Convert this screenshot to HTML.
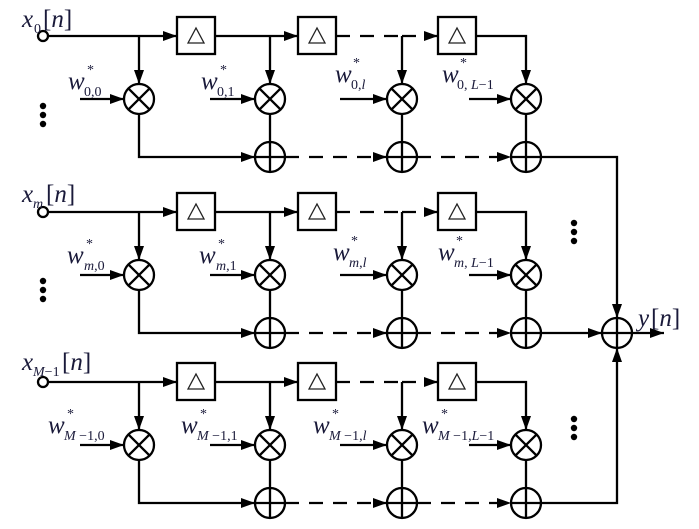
<!DOCTYPE html>
<html><head><meta charset="utf-8"><style>
html,body{margin:0;padding:0;background:#fff}
svg{display:block}
svg text{font-family:"Liberation Serif","DejaVu Serif",serif !important;fill:#1a1a3a}
.w{font-style:italic;font-size:25px}
.s{font-size:14px}
.i{font-style:italic}
</style></head><body>
<svg width="699" height="529" viewBox="0 0 699 529" xmlns="http://www.w3.org/2000/svg" font-family="Liberation Serif, DejaVu Serif, serif">
<defs>
<marker id="a" markerUnits="userSpaceOnUse" markerWidth="16" markerHeight="12" refX="14" refY="5" orient="auto">
<path d="M0,0 L14,5 L0,10 Z" fill="#000"/>
</marker>
<g id="row" stroke="#000" stroke-width="2.3" fill="none">
<line x1="48" y1="0" x2="177" y2="0" marker-end="url(#a)"/>
<line x1="139" y1="0" x2="139" y2="48" marker-end="url(#a)"/>
<rect x="177" y="-19" width="38" height="37" fill="#fff"/>
<path d="M188,7 L196,-8 L204,7 Z" stroke-width="1.3" stroke="#222"/>
<line x1="215" y1="0" x2="298" y2="0" marker-end="url(#a)"/>
<line x1="270" y1="0" x2="270" y2="48" marker-end="url(#a)"/>
<rect x="298" y="-19" width="38" height="37" fill="#fff"/>
<path d="M309,7 L317,-8 L325,7 Z" stroke-width="1.3" stroke="#222"/>
<line x1="336" y1="0" x2="402" y2="0" stroke-dasharray="14,10"/>
<line x1="402" y1="0" x2="438" y2="0" stroke-dasharray="14,10" marker-end="url(#a)"/>
<line x1="402" y1="0" x2="402" y2="48" marker-end="url(#a)"/>
<rect x="438" y="-19" width="38" height="37" fill="#fff"/>
<path d="M449,7 L457,-8 L465,7 Z" stroke-width="1.3" stroke="#222"/>
<polyline points="476,0 526,0 526,48" marker-end="url(#a)"/>
<line x1="80" y1="63" x2="124" y2="63" marker-end="url(#a)"/>
<line x1="210" y1="63" x2="255" y2="63" marker-end="url(#a)"/>
<line x1="340" y1="63" x2="387" y2="63" marker-end="url(#a)"/>
<line x1="469" y1="63" x2="511" y2="63" marker-end="url(#a)"/>
<polyline points="139,78 139,121 255,121" marker-end="url(#a)"/>
<line x1="270" y1="78" x2="270" y2="106"/>
<line x1="402" y1="78" x2="402" y2="106"/>
<line x1="526" y1="78" x2="526" y2="106"/>
<line x1="285" y1="121" x2="387" y2="121" stroke-dasharray="14,10" marker-end="url(#a)"/>
<line x1="417" y1="121" x2="511" y2="121" stroke-dasharray="14,10" marker-end="url(#a)"/>
<circle cx="43" cy="0" r="5" fill="#fff"/>
<g id="m0"><circle cx="139" cy="63" r="15" fill="#fff"/><path d="M128.4,52.4 L149.6,73.6 M149.6,52.4 L128.4,73.6"/></g>
<use href="#m0" x="131"/><use href="#m0" x="263"/><use href="#m0" x="387"/>
<g id="p0"><circle cx="270" cy="121" r="15" fill="#fff"/><path d="M255,121 H285 M270,106 V136"/></g>
<use href="#p0" x="132"/><use href="#p0" x="256"/>
</g>
</defs>
<use href="#row" y="36"/>
<use href="#row" y="212"/>
<use href="#row" y="382"/>
<g stroke="#000" stroke-width="2.3" fill="none">
<polyline points="541,157 617,157 617,318" marker-end="url(#a)"/>
<line x1="541" y1="333" x2="602" y2="333" marker-end="url(#a)"/>
<polyline points="541,503 617,503 617,348" marker-end="url(#a)"/>
<line x1="632" y1="333" x2="664" y2="333" marker-end="url(#a)"/>
<circle cx="617" cy="333" r="15" fill="#fff"/>
<path d="M602,333 H632 M617,318 V348"/>
</g>
<g fill="#000">
<circle cx="43" cy="106" r="3.2"/><circle cx="43" cy="115" r="3.2"/><circle cx="43" cy="124" r="3.2"/>
<circle cx="43" cy="281" r="3.2"/><circle cx="43" cy="290" r="3.2"/><circle cx="43" cy="299" r="3.2"/>
<circle cx="574" cy="223" r="3.2"/><circle cx="574" cy="232" r="3.2"/><circle cx="574" cy="241" r="3.2"/>
<circle cx="574" cy="419" r="3.2"/><circle cx="574" cy="428" r="3.2"/><circle cx="574" cy="437" r="3.2"/>
</g>
<g font-family="Liberation Serif, DejaVu Serif, serif">
<text x="22" y="27" class="w">x</text><text x="34" y="33" class="s">0</text><text x="43" y="27" font-size="25">[<tspan class="i">n</tspan>]</text>
<text x="22" y="202" class="w">x</text><text x="33" y="208" class="s i">m</text><text x="46" y="202" font-size="25">[<tspan class="i">n</tspan>]</text>
<text x="22" y="370" class="w">x</text><text x="33" y="376" class="s"><tspan class="i">M</tspan>−1</text><text x="62" y="370" font-size="25">[<tspan class="i">n</tspan>]</text>
<text x="638" y="326" class="w">y</text><text x="651" y="326" font-size="25">[<tspan class="i">n</tspan>]</text>
<text x="68" y="89" class="w">w</text><text x="87" y="74" class="s">*</text><text x="84" y="96" class="s">0,0</text>
<text x="201" y="89" class="w">w</text><text x="220" y="74" class="s">*</text><text x="217" y="96" class="s">0,1</text>
<text x="335" y="82" class="w">w</text><text x="353" y="67" class="s">*</text><text x="351" y="89" class="s">0,<tspan class="i">l</tspan></text>
<text x="442" y="82" class="w">w</text><text x="460" y="67" class="s">*</text><text x="457" y="89" class="s">0, <tspan class="i">L</tspan>−1</text>
<text x="67" y="263" class="w">w</text><text x="86" y="248" class="s">*</text><text x="84" y="270" class="s"><tspan class="i">m</tspan>,0</text>
<text x="199" y="263" class="w">w</text><text x="218" y="248" class="s">*</text><text x="216" y="270" class="s"><tspan class="i">m</tspan>,1</text>
<text x="333" y="260" class="w">w</text><text x="351" y="245" class="s">*</text><text x="349" y="267" class="s"><tspan class="i">m</tspan>,<tspan class="i">l</tspan></text>
<text x="438" y="260" class="w">w</text><text x="456" y="245" class="s">*</text><text x="454" y="267" class="s"><tspan class="i">m</tspan>, <tspan class="i">L</tspan>−1</text>
<text x="48" y="433" class="w">w</text><text x="67" y="418" class="s">*</text><text x="64" y="440" class="s"><tspan class="i">M</tspan> −1,0</text>
<text x="181" y="433" class="w">w</text><text x="200" y="418" class="s">*</text><text x="197" y="440" class="s"><tspan class="i">M</tspan> −1,1</text>
<text x="313" y="433" class="w">w</text><text x="332" y="418" class="s">*</text><text x="329" y="440" class="s"><tspan class="i">M</tspan> −1,<tspan class="i">l</tspan></text>
<text x="422" y="433" class="w">w</text><text x="441" y="418" class="s">*</text><text x="438" y="440" class="s"><tspan class="i">M</tspan> −1,<tspan class="i">L</tspan>−1</text>
</g>
</svg>
</body></html>
